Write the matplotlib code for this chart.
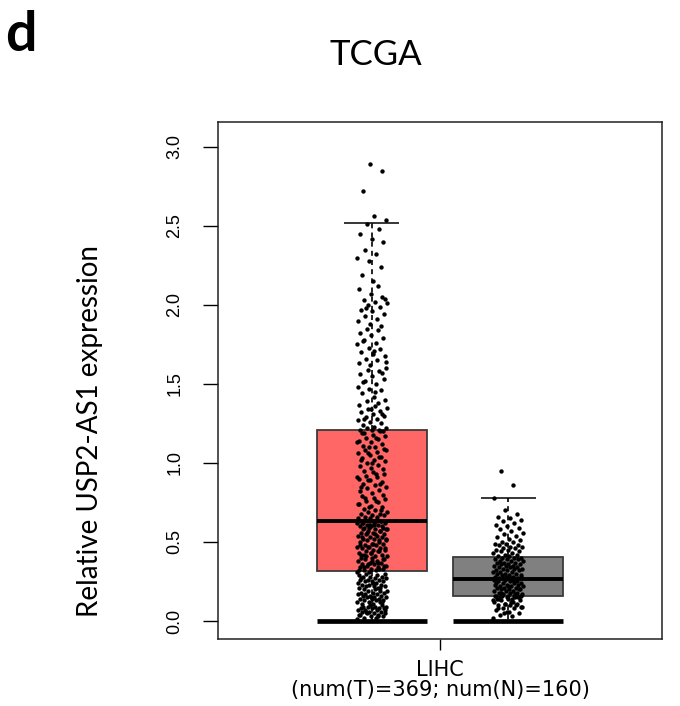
import numpy as np
import matplotlib
matplotlib.use("Agg")
import matplotlib.pyplot as plt

# 数据：表达值（T=肿瘤 369 个，N=正常 160 个）
tumor_vals = [
    0.01, 0.02, 0.02, 0.03, 0.03, 0.04, 0.04, 0.05, 0.05, 0.05,
    0.06, 0.06, 0.06, 0.07, 0.07, 0.07, 0.08, 0.08, 0.08, 0.08,
    0.09, 0.09, 0.09, 0.09, 0.10, 0.10, 0.04, 0.03, 0.06, 0.07,
    0.11, 0.11, 0.12, 0.12, 0.12, 0.13, 0.13, 0.13, 0.14, 0.14,
    0.14, 0.15, 0.15, 0.15, 0.16, 0.16, 0.16, 0.17, 0.17, 0.17,
    0.18, 0.18, 0.18, 0.19, 0.19, 0.19, 0.20, 0.20, 0.12, 0.15,
    0.21, 0.21, 0.22, 0.22, 0.22, 0.23, 0.23, 0.23, 0.24, 0.24,
    0.25, 0.25, 0.25, 0.26, 0.26, 0.26, 0.27, 0.27, 0.28, 0.28,
    0.28, 0.29, 0.29, 0.30, 0.30, 0.24, 0.27, 0.21, 0.31, 0.31,
    0.32, 0.32, 0.33, 0.33, 0.34, 0.34, 0.35, 0.35, 0.36, 0.36,
    0.37, 0.37, 0.38, 0.38, 0.39, 0.39, 0.40, 0.40, 0.33, 0.36,
    0.41, 0.41, 0.42, 0.42, 0.43, 0.43, 0.44, 0.44, 0.45, 0.45,
    0.46, 0.46, 0.47, 0.47, 0.48, 0.48, 0.49, 0.49, 0.50, 0.50,
    0.51, 0.51, 0.52, 0.52, 0.53, 0.53, 0.54, 0.54, 0.55, 0.55,
    0.56, 0.56, 0.57, 0.57, 0.58, 0.58, 0.59, 0.59, 0.60, 0.60,
    0.61, 0.61, 0.62, 0.62, 0.62, 0.63, 0.63, 0.63, 0.64, 0.64,
    0.35, 0.38, 0.42, 0.44, 0.47, 0.52, 0.55, 0.58, 0.60, 0.61,
    0.32, 0.37, 0.41, 0.46, 0.49, 0.53, 0.57, 0.59, 0.62, 0.63,
    0.34, 0.39, 0.43, 0.48, 0.51, 0.56, 0.58, 0.61, 0.62, 0.63,
    0.65, 0.65, 0.66, 0.66, 0.67, 0.67, 0.68, 0.68, 0.69, 0.69,
    0.70, 0.71, 0.72, 0.73, 0.74, 0.75, 0.76, 0.77, 0.78, 0.79,
    0.70, 0.72, 0.74, 0.76, 0.78, 0.80, 0.81, 0.82, 0.83, 0.84,
    0.85, 0.86, 0.87, 0.88, 0.89, 0.90, 0.91, 0.92, 0.93, 0.94,
    0.85, 0.87, 0.89, 0.91, 0.93, 0.95, 0.96, 0.97, 0.98, 0.99,
    1.00, 1.01, 1.02, 1.03, 1.04, 1.05, 1.06, 1.07, 1.08, 1.09,
    1.00, 1.02, 1.04, 1.06, 1.08, 1.10, 1.11, 1.12, 1.13, 1.14,
    1.15, 1.16, 1.17, 1.18, 1.19, 1.20, 1.10, 1.13, 1.16, 1.19,
    1.20, 1.21, 1.21, 1.21, 1.22, 1.22, 1.23, 1.24, 1.25, 1.26,
    1.27, 1.28, 1.29, 1.30, 1.31, 1.32, 1.33, 1.34, 1.35, 1.36,
    1.28, 1.31, 1.34, 1.37, 1.38, 1.39, 1.40, 1.42, 1.44, 1.46,
    1.47, 1.48, 1.50, 1.52, 1.53, 1.55, 1.56, 1.58, 1.59, 1.60,
    1.45, 1.51, 1.57, 1.62, 1.63, 1.65, 1.66, 1.68, 1.69, 1.70,
    1.72, 1.73, 1.75, 1.76, 1.78, 1.79, 1.81, 1.82, 1.84, 1.85,
    1.64, 1.71, 1.77, 1.87, 1.88, 1.90, 1.91, 1.93, 1.94, 1.96,
    1.97, 1.99, 2.00, 2.01, 2.02, 2.03, 2.05, 2.07, 2.10, 2.12,
    1.98, 2.04, 2.15, 2.19, 2.24, 2.28, 2.30, 2.32, 2.35, 2.40,
    2.42, 2.45, 2.48, 2.51, 2.54, 2.56, 2.72, 2.85, 2.89,
]
normal_vals = [
    0.02, 0.03, 0.04, 0.05, 0.06, 0.07, 0.08, 0.08, 0.09, 0.10,
    0.10, 0.11, 0.11, 0.12, 0.12, 0.13, 0.13, 0.14, 0.14, 0.15,
    0.05, 0.09, 0.12, 0.14, 0.15, 0.15, 0.16, 0.16, 0.16, 0.16,
    0.06, 0.08, 0.10, 0.11, 0.13, 0.14, 0.15, 0.15, 0.16, 0.16,
    0.17, 0.17, 0.17, 0.18, 0.18, 0.18, 0.19, 0.19, 0.19, 0.20,
    0.20, 0.20, 0.21, 0.21, 0.21, 0.22, 0.22, 0.22, 0.23, 0.23,
    0.23, 0.24, 0.24, 0.24, 0.25, 0.25, 0.25, 0.26, 0.26, 0.26,
    0.18, 0.20, 0.22, 0.24, 0.26, 0.27, 0.27, 0.27, 0.27, 0.27,
    0.28, 0.28, 0.28, 0.29, 0.29, 0.29, 0.30, 0.30, 0.30, 0.31,
    0.31, 0.31, 0.32, 0.32, 0.32, 0.33, 0.33, 0.33, 0.34, 0.34,
    0.34, 0.35, 0.35, 0.35, 0.36, 0.36, 0.36, 0.37, 0.37, 0.37,
    0.38, 0.38, 0.38, 0.39, 0.39, 0.39, 0.40, 0.40, 0.40, 0.41,
    0.41, 0.42, 0.42, 0.43, 0.43, 0.44, 0.44, 0.45, 0.45, 0.46,
    0.46, 0.47, 0.47, 0.48, 0.48, 0.49, 0.49, 0.50, 0.50, 0.51,
    0.52, 0.53, 0.54, 0.55, 0.56, 0.57, 0.58, 0.59, 0.60, 0.61,
    0.62, 0.63, 0.64, 0.65, 0.66, 0.68, 0.70, 0.78, 0.86, 0.95,
]

# 箱线图统计量（图上读出）：下须, Q1, 中位数, Q3, 上须
whis_lo = [0.0, 0.0]
q1 = [0.315, 0.158]
med = [0.633, 0.268]
q3 = [1.21, 0.405]
whis_hi = [2.52, 0.78]
box_colors = ["#FF6666", "#808080"]

category = "LIHC"
n_tumor = len(tumor_vals)
n_normal = len(normal_vals)

fig = plt.figure(figsize=(6.8, 7.06), dpi=100)
ax = fig.add_axes([0.3206, 0.0949, 0.6529, 0.7323])

pos = [0.3468, 0.6532]
box_w = 0.2477
cap_w = box_w / 2

stats = []
for i in range(2):
    stats.append(dict(whislo=whis_lo[i], q1=q1[i], med=med[i], q3=q3[i], whishi=whis_hi[i]))
bp = ax.bxp(stats, positions=pos, widths=box_w, patch_artist=True,
            showcaps=False, showfliers=False,
            boxprops=dict(edgecolor="#3a3a3a", linewidth=1.3),
            whiskerprops=dict(color="black", linestyle=(0, (3, 2.5)), linewidth=1.2),
            medianprops=dict(color="black", linewidth=2.8),
            manage_ticks=False)
for patch, c in zip(bp["boxes"], box_colors):
    patch.set_facecolor(c)
for m in bp["medians"]:
    m.set_zorder(4)

# 上须端线（半宽）和 0 处的粗线（全宽）
for i in range(2):
    ax.hlines(whis_hi[i], pos[i] - cap_w / 2, pos[i] + cap_w / 2, color="black", lw=1.1, zorder=2)
    ax.hlines(whis_lo[i], pos[i] - box_w / 2, pos[i] + box_w / 2, color="black", lw=3.4, zorder=4)

# 抖动散点（黄金分割序列，不用随机数）
gold = 0.6180339887
jit = 0.034
for i, vals in enumerate([tumor_vals, normal_vals]):
    k = np.arange(len(vals))
    dx = ((k * gold) % 1.0 - 0.5) * 2 * jit
    ax.scatter(pos[i] + dx, vals, s=10, color="black", linewidths=0, zorder=3)

ax.set_xlim(0, 1)
ax.set_ylim(-0.114, 3.158)
ax.set_yticks([0.0, 0.5, 1.0, 1.5, 2.0, 2.5, 3.0])
ax.set_yticklabels(["0.0", "0.5", "1.0", "1.5", "2.0", "2.5", "3.0"],
                   rotation=90, va="center", family="Liberation Sans", fontsize=13)
ax.tick_params(axis="y", length=11, width=1, pad=14)
ax.set_xticks([0.5])
ax.set_xticklabels([category + "\n(num(T)=%d; num(N)=%d)" % (n_tumor, n_normal)],
                   family="DejaVu Sans", fontsize=15, linespacing=1.0)
ax.tick_params(axis="x", length=8, width=1, pad=7)
for s in ax.spines.values():
    s.set_linewidth(1.1)
    s.set_color("#222222")

fig.text(0.132, 0.389, "Relative USP2-AS1 expression", rotation=90, ha="center", va="center",
         family="Lato", fontsize=20)
fig.text(0.553, 0.922, "TCGA", ha="center", va="center", family="Lato", fontsize=25)
fig.text(0.008, 0.95, "d", ha="left", va="center", family="Lato", fontweight="bold", fontsize=40)

fig.savefig("out.png", dpi=100)
